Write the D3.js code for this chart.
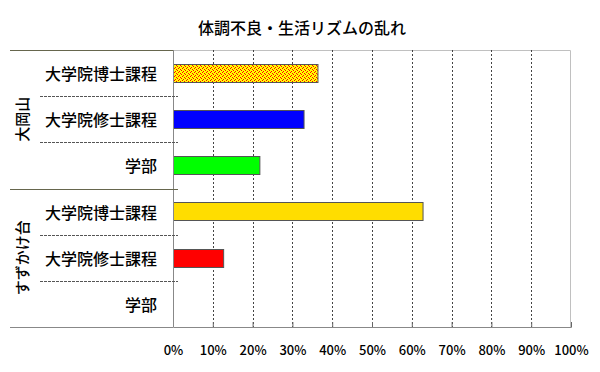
<!DOCTYPE html>
<html>
<head>
<meta charset="utf-8">
<script src="https://cdn.jsdelivr.net/npm/d3@7"></script>
<style>
    body { margin: 0; background: #fff; }
    text { font-family: "Noto Sans CJK JP", sans-serif; fill: #000; font-weight: 500; }
</style>
</head>
<body>
<svg id="chart"></svg>
<script>
// chart data
const title = '体調不良・生活リズムの乱れ';
const groups = ['大岡山', 'すずかけ台'];
const categories = ['大学院博士課程', '大学院修士課程', '学部'];
const values = [
    [36.3, 32.8, 21.7],   // 大岡山
    [62.7, 12.6, 0]       // すずかけ台
];
const xTicks = [0, 10, 20, 30, 40, 50, 60, 70, 80, 90, 100];

// fills per row (styles, not data)
const barFills = ['url(#dots)', '#0000ff', '#00ff00', '#ffdd00', '#ff0000', '#ffffff'];

class GroupedBarChart {

    constructor(_config) {
        this.config = {
            parentElement: _config.parentElement,
            containerWidth: 600,
            containerHeight: 372,
            margin: {top: 50, right: 29, bottom: 45, left: 173}
        }
        this.initVis();
    }

    initVis() {
        let vis = this;

        vis.width = vis.config.containerWidth - vis.config.margin.left - vis.config.margin.right;
        vis.height = vis.config.containerHeight - vis.config.margin.top - vis.config.margin.bottom;

        // flatten groups x categories into rows
        vis.rows = [];
        groups.forEach((g, gi) => {
            categories.forEach((c, ci) => {
                vis.rows.push({group: g, category: c, value: values[gi][ci], key: g + '|' + c, idx: vis.rows.length});
            });
        });

        vis.xScale = d3.scaleLinear()
            .domain([0, 100])
            .range([0, vis.width]);

        vis.yScale = d3.scaleBand()
            .domain(vis.rows.map(d => d.key))
            .range([0, vis.height])
            .paddingInner(0.6)
            .paddingOuter(0.3);

        vis.svg = d3.select(vis.config.parentElement)
            .attr('width', vis.config.containerWidth)
            .attr('height', vis.config.containerHeight);

        // dotted pattern for the first bar
        const pat = vis.svg.append('defs').append('pattern')
            .attr('id', 'dots')
            .attr('width', 4).attr('height', 4)
            .attr('patternUnits', 'userSpaceOnUse');
        pat.append('rect').attr('width', 4).attr('height', 4).attr('fill', '#ffff00');
        [[0, 0], [2, 1], [1, 2], [3, 3]].forEach(([x, y]) => {
            pat.append('rect').attr('x', x).attr('y', y).attr('width', 1).attr('height', 1).attr('fill', '#ff0000');
        });

        vis.svg.append('text')
            .attr('x', 302)
            .attr('y', 27)
            .attr('text-anchor', 'middle')
            .attr('dominant-baseline', 'central')
            .style('font-size', '16px')
            .text(title);

        vis.chart = vis.svg.append('g')
            .attr('transform', `translate(${vis.config.margin.left},${vis.config.margin.top})`);

        vis.renderVis();
    }

    renderVis() {
        let vis = this;
        const step = vis.yScale.step();
        const left = -vis.config.margin.left;

        // plot frame (top + right light gray)
        vis.chart.append('path')
            .attr('d', `M0,0.5H${vis.width - 0.5}V${vis.height}`)
            .attr('fill', 'none')
            .attr('stroke', '#c0c0c0');

        // vertical grid lines
        vis.chart.selectAll('.grid')
            .data(xTicks.filter(t => t > 0 && t < 100))
            .join('line')
            .attr('class', 'grid')
            .attr('x1', d => Math.round(vis.xScale(d)) + 0.5)
            .attr('x2', d => Math.round(vis.xScale(d)) + 0.5)
            .attr('y1', 0)
            .attr('y2', vis.height)
            .attr('stroke', '#444')
            .attr('stroke-dasharray', '2,2');

        // bars
        vis.chart.selectAll('.bar')
            .data(vis.rows.filter(d => d.value > 0))
            .join('rect')
            .attr('class', 'bar')
            .attr('x', 0.5)
            .attr('y', d => Math.round(vis.yScale(d.key)) + 0.5)
            .attr('width', d => vis.xScale(d.value))
            .attr('height', Math.round(vis.yScale.bandwidth()))
            .attr('fill', d => barFills[d.idx])
            .attr('stroke', '#555')
            .attr('stroke-width', 1);

        // x axis
        const xAxisG = vis.chart.append('g')
            .attr('transform', `translate(0,${vis.height})`)
            .call(d3.axisBottom(vis.xScale)
                .tickValues(xTicks)
                .tickSize(-5)
                .tickPadding(19)
                .tickFormat(d => d + '%'));
        xAxisG.select('.domain').attr('stroke', '#888');
        xAxisG.selectAll('.tick line').attr('stroke', '#666');
        xAxisG.selectAll('.tick text')
            .style('font-size', '13px')
            .style('font-family', '"Noto Sans CJK JP", sans-serif')
            .style('font-weight', 500)
            .attr('fill', '#000');

        // left axis line
        vis.chart.append('line')
            .attr('x1', 0.5).attr('x2', 0.5)
            .attr('y1', 0).attr('y2', vis.height)
            .attr('stroke', '#888');

        // row separators inside each group
        const inner = vis.rows.filter((d, i) => i % categories.length !== 0);
        vis.chart.selectAll('.sep')
            .data(inner)
            .join('line')
            .attr('class', 'sep')
            .attr('x1', left + 40).attr('x2', 5)
            .attr('y1', d => Math.round(vis.yScale(d.key) - step * vis.yScale.paddingInner() / 2) + 0.5)
            .attr('y2', d => Math.round(vis.yScale(d.key) - step * vis.yScale.paddingInner() / 2) + 0.5)
            .attr('stroke', '#555')
            .attr('stroke-dasharray', '3,1');

        // group separators
        const bounds = d3.range(groups.length + 1).map(i => i * categories.length * step);
        vis.chart.selectAll('.gsep')
            .data(bounds)
            .join('line')
            .attr('class', 'gsep')
            .attr('x1', left + 10)
            .attr('x2', (d, i) => i === 0 ? 0 : (i === groups.length ? 0 : 5))
            .attr('y1', d => Math.round(d) + 0.5)
            .attr('y2', d => Math.round(d) + 0.5)
            .attr('stroke', (d, i) => i === groups.length ? '#888' : '#66664d');

        // category labels
        vis.chart.selectAll('.cat')
            .data(vis.rows)
            .join('text')
            .attr('class', 'cat')
            .attr('x', -16)
            .attr('y', d => vis.yScale(d.key) + vis.yScale.bandwidth() / 2)
            .attr('text-anchor', 'end')
            .attr('dominant-baseline', 'central')
            .style('font-size', '16px')
            .text(d => d.category);

        // group labels, rotated
        vis.chart.selectAll('.grp')
            .data(groups)
            .join('text')
            .attr('class', 'grp')
            .attr('transform', (d, i) => `translate(${left + 21},${(bounds[i] + bounds[i + 1]) / 2}) rotate(-90)`)
            .attr('text-anchor', 'middle')
            .attr('dominant-baseline', 'central')
            .style('font-size', '15px')
            .text(d => d);
    }
}

new GroupedBarChart({parentElement: '#chart'});
</script>
</body>
</html>
